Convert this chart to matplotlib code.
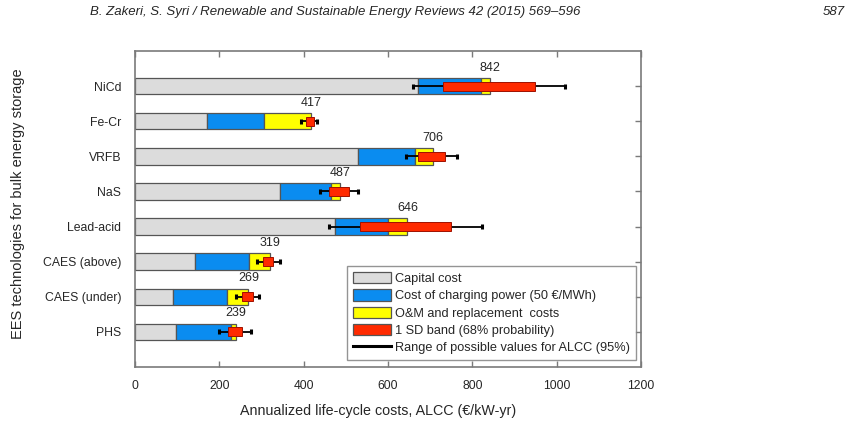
import matplotlib
matplotlib.use("Agg")
import matplotlib.pyplot as plt
from matplotlib.patches import Patch
from matplotlib.lines import Line2D
from matplotlib import font_manager

# ---- data -------------------------------------------------------------
technologies = ["PHS", "CAES (under)", "CAES (above)", "Lead-acid",
                "NaS", "VRFB", "Fe-Cr", "NiCd"]
capital_cost = [97, 91, 142, 474, 345, 530, 170, 671]
charging_cost = [131, 126, 128, 127, 121, 134, 137, 149]
om_replacement = [11, 52, 49, 45, 21, 42, 110, 22]
total_alcc = [239, 269, 319, 646, 487, 706, 417, 842]
sd_low = [220, 253, 304, 534, 461, 670, 405, 730]
sd_high = [254, 279, 328, 749, 508, 735, 425, 948]
range_low = [200, 240, 289, 461, 439, 643, 393, 660]
range_high = [274, 295, 344, 822, 528, 764, 432, 1020]
x_ticks = [0, 200, 400, 600, 800, 1000, 1200]

legend_labels = ["Capital cost",
                 "Cost of charging power (50 \u20ac/MWh)",
                 "O&M and replacement  costs",
                 "1 SD band (68% probability)",
                 "Range of possible values for ALCC (95%)"]

# ---- style ------------------------------------------------------------
plt.rcParams["font.family"] = ["Liberation Sans", "DejaVu Sans"]
TXT = "#262626"
GRAY = "#dcdcdc"
BLUE = "#0a8cf0"
YELLOW = "#ffff00"
RED = "#ff2a00"
EDGE = "#555555"
SPINE = "#7a7a7a"

fig = plt.figure(figsize=(8.52, 4.23), dpi=100)
ax = fig.add_axes([135 / 852, 1 - 367 / 423, 506 / 852, 316 / 423])

pos = list(range(1, len(technologies) + 1))
bar_h = 0.47
box_h = 0.26

blue_left = [c for c in capital_cost]
yellow_left = [c + g for c, g in zip(capital_cost, charging_cost)]
yellow_w = [t - y for t, y in zip(total_alcc, yellow_left)]

ax.barh(pos, capital_cost, height=bar_h, color=GRAY, edgecolor=EDGE,
        linewidth=0.9, zorder=2)
ax.barh(pos, charging_cost, left=blue_left, height=bar_h, color=BLUE,
        edgecolor=EDGE, linewidth=0.9, zorder=2)
ax.barh(pos, yellow_w, left=yellow_left, height=bar_h, color=YELLOW,
        edgecolor=EDGE, linewidth=0.9, zorder=2)

# 95% range whiskers
for p, lo, hi in zip(pos, range_low, range_high):
    ax.plot([lo, hi], [p, p], color="black", lw=1.3, zorder=3,
            solid_capstyle="butt")
    for xv in (lo, hi):
        ax.plot([xv, xv], [p - 0.07, p + 0.07], color="black", lw=2.2,
                zorder=3, solid_capstyle="butt")

# 1 SD bands
sd_w = [h - l for l, h in zip(sd_low, sd_high)]
ax.barh(pos, sd_w, left=sd_low, height=box_h, color=RED,
        edgecolor="#a01000", linewidth=0.7, zorder=4)

# total labels
for p, t in zip(pos, total_alcc):
    ax.annotate(f"{t}", xy=(t, p + bar_h / 2), xytext=(0, 3),
                textcoords="offset points", ha="center", va="bottom",
                fontsize=9, color=TXT)

ax.set_xlim(0, 1200)
ax.set_ylim(0, 9)
ax.set_xticks(x_ticks)
ax.set_xticklabels([str(v) for v in x_ticks])
ax.set_yticks(pos)
ax.set_yticklabels(technologies)
ax.tick_params(axis="x", direction="in", top=True, length=4, width=1,
               color=SPINE, labelsize=8.7, labelcolor=TXT, pad=9)
ax.tick_params(axis="y", direction="in", left=False, right=True, length=4,
               width=1, color=SPINE, labelsize=8.8, labelcolor=TXT, pad=10)
for s in ax.spines.values():
    s.set_color(SPINE)
    s.set_linewidth(1.2)

handles = [Patch(facecolor=GRAY, edgecolor=EDGE, linewidth=0.9),
           Patch(facecolor=BLUE, edgecolor=EDGE, linewidth=0.9),
           Patch(facecolor=YELLOW, edgecolor=EDGE, linewidth=0.9),
           Patch(facecolor=RED, edgecolor=EDGE, linewidth=0.9),
           Line2D([0], [0], color="black", lw=2.2)]
leg = ax.legend(handles, legend_labels, loc="lower right",
                bbox_to_anchor=(0.99, 0.022), fontsize=9.2, frameon=True,
                fancybox=False, edgecolor=SPINE, handlelength=3.0,
                handleheight=1.0, handletextpad=0.3, labelspacing=0.33,
                borderpad=0.45, borderaxespad=0)
leg.get_frame().set_linewidth(1.0)
leg.set_zorder(5)
for t in leg.get_texts():
    t.set_color(TXT)

fig.text(378 / 852, 1 - 411 / 423,
         "Annualized life-cycle costs, ALCC (\u20ac/kW-yr)",
         ha="center", va="center", fontsize=10.3, color=TXT)
fig.text(18 / 852, 1 - 204 / 423, "EES technologies for bulk energy storage",
         rotation=90, ha="center", va="center", fontsize=10.5, color=TXT)

# running header
available = {f.name for f in font_manager.fontManager.ttflist}
head_family = ["Liberation Sans Narrow"] if "Liberation Sans Narrow" in available \
    else ["Liberation Sans", "DejaVu Sans"]
header = fig.text(90 / 852, 1 - 12 / 423,
                  "B. Zakeri, S. Syri / Renewable and Sustainable Energy Reviews 42 (2015) 569\u2013596",
                  ha="left", va="center", fontsize=9, style="italic",
                  family=head_family, color=TXT)
page = fig.text(845 / 852, 1 - 12 / 423, "587", ha="right", va="center",
                fontsize=9, style="italic", family=head_family, color=TXT)
renderer = fig.canvas.get_renderer()
w = header.get_window_extent(renderer).width
size = 9 * 491 / w
header.set_fontsize(size)
page.set_fontsize(size)

fig.savefig("out.png", dpi=100)
